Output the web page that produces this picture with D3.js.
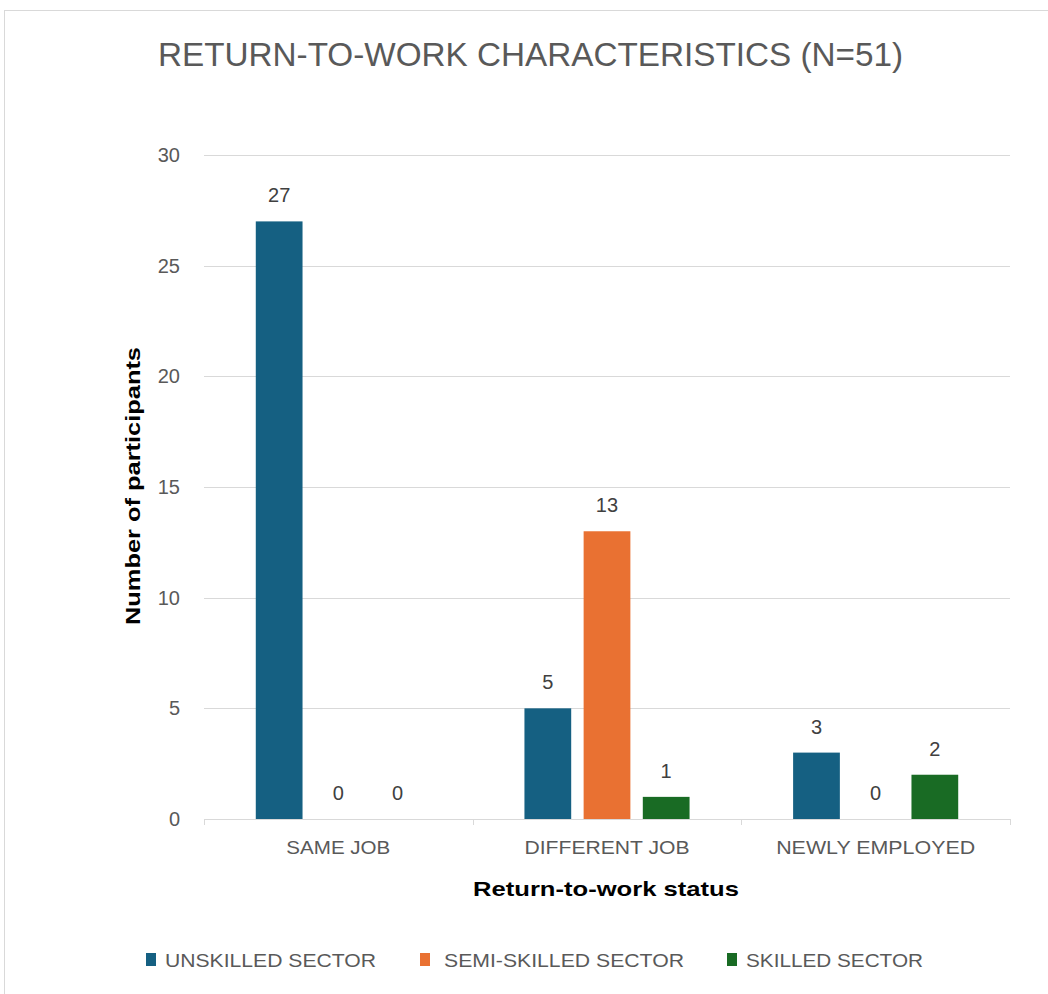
<!DOCTYPE html>
<html>
<head>
<meta charset="utf-8">
<script src="https://cdn.jsdelivr.net/npm/d3@7"></script>
<style>
  html, body { margin: 0; padding: 0; background: #fff; }
  svg { display: block; font-family: 'Liberation Sans', Arial, sans-serif; }
</style>
</head>
<body>
<div id="chart"></div>
<script>
const categories = ['SAME JOB', 'DIFFERENT JOB', 'NEWLY EMPLOYED']
const seriesNames = ['UNSKILLED SECTOR', 'SEMI-SKILLED SECTOR', 'SKILLED SECTOR']
const unskilled = [27, 5, 3]
const semiSkilled = [0, 13, 0]
const skilled = [0, 1, 2]
const yTicks = [0, 5, 10, 15, 20, 25, 30]
const colors = ['#156082', '#e97132', '#196b24']

const width = 1048
const height = 994
const padding = { top: 155, right: 38, bottom: 175, left: 204 }

// widths of the labels in the picture (condensed office font)
const categoryWidths = [104, 165, 199]
const legendWidths = [211, 240, 177]

const seriesValues = [unskilled, semiSkilled, skilled]
const table = categories.map((c, i) => ({
  category: c,
  values: seriesNames.map((s, j) => ({ key: s, idx: j, value: seriesValues[j][i] })),
}))

const svg = d3.select('#chart').append('svg').attr('width', width).attr('height', height)

// chart frame
svg.append('rect')
  .attr('x', 4.5).attr('y', 10.5)
  .attr('width', width + 10).attr('height', height + 10)
  .attr('fill', '#fff').attr('stroke', '#d9d9d9').attr('stroke-width', 1)

const x0 = d3.scaleBand()
  .domain(categories)
  .range([padding.left, width - padding.right])
  .paddingInner(0).paddingOuter(0)

const x1 = d3.scaleBand()
  .domain(seriesNames)
  .range([0, x0.bandwidth()])
  .paddingInner(0.21)
  .paddingOuter(0.875)

const y = d3.scaleLinear()
  .domain([0, 30])
  .range([height - padding.bottom, padding.top])

// gridlines
svg.append('g')
  .selectAll('line')
  .data(yTicks.filter((d) => d > 0))
  .enter()
  .append('line')
  .attr('x1', padding.left)
  .attr('x2', width - padding.right)
  .attr('y1', (d) => Math.round(y(d)) + 0.5)
  .attr('y2', (d) => Math.round(y(d)) + 0.5)
  .attr('stroke', '#d9d9d9')
  .attr('stroke-width', 1)

// y axis labels
const yAxis = d3.axisLeft(y).tickValues(yTicks).tickSize(0).tickPadding(24)
svg.append('g')
  .attr('transform', `translate(${padding.left},0)`)
  .call(yAxis)
  .call((g) => g.select('.domain').remove())
  .call((g) => g.selectAll('text')
    .attr('fill', '#595959')
    .attr('font-size', 20)
    .attr('font-family', "'Liberation Sans', Arial, sans-serif"))

// bars
const groups = svg.append('g')
  .selectAll('g')
  .data(table)
  .enter()
  .append('g')
  .attr('transform', (d) => `translate(${x0(d.category)},0)`)

groups.selectAll('rect')
  .data((d) => d.values)
  .enter()
  .append('rect')
  .attr('x', (d) => x1(d.key))
  .attr('width', x1.bandwidth())
  .attr('y', (d) => y(d.value))
  .attr('height', (d) => y(0) - y(d.value))
  .attr('fill', (d) => colors[d.idx])

groups.selectAll('text')
  .data((d) => d.values)
  .enter()
  .append('text')
  .attr('x', (d) => x1(d.key) + x1.bandwidth() / 2)
  .attr('y', (d) => y(d.value) - 19)
  .attr('text-anchor', 'middle')
  .attr('font-size', 20)
  .attr('fill', '#404040')
  .text((d) => d.value)

// x axis
const xAxis = d3.axisBottom(x0).tickSize(0).tickPadding(22)
const xg = svg.append('g')
  .attr('transform', `translate(0,${y(0)})`)
  .call(xAxis)
xg.select('.domain').remove()
xg.selectAll('text')
  .attr('fill', '#595959')
  .attr('font-size', 19)
  .attr('font-family', "'Liberation Sans', Arial, sans-serif")
  .attr('textLength', (d, i) => categoryWidths[i])
  .attr('lengthAdjust', 'spacingAndGlyphs')

xg.append('line')
  .attr('x1', padding.left).attr('x2', width - padding.right)
  .attr('y1', 0.5).attr('y2', 0.5)
  .attr('stroke', '#d9d9d9')
xg.selectAll('.sep')
  .data(categories.map((c) => x0(c)).concat([x0.range()[1]]))
  .enter()
  .append('line')
  .attr('class', 'sep')
  .attr('x1', (d) => Math.round(d) + 0.5).attr('x2', (d) => Math.round(d) + 0.5)
  .attr('y1', 0).attr('y2', 6)
  .attr('stroke', '#d9d9d9')

// titles
svg.append('text')
  .attr('x', 158).attr('y', 66)
  .attr('font-size', 34)
  .attr('fill', '#595959')
  .attr('textLength', 745)
  .attr('lengthAdjust', 'spacingAndGlyphs')
  .text('RETURN-TO-WORK CHARACTERISTICS (N=51)')

svg.append('text')
  .attr('transform', 'translate(140,486) rotate(-90)')
  .attr('text-anchor', 'middle')
  .attr('font-size', 21)
  .attr('font-weight', 'bold')
  .attr('fill', '#000')
  .attr('textLength', 278)
  .attr('lengthAdjust', 'spacingAndGlyphs')
  .text('Number of participants')

svg.append('text')
  .attr('x', 606)
  .attr('y', 896)
  .attr('text-anchor', 'middle')
  .attr('font-size', 21)
  .attr('font-weight', 'bold')
  .attr('fill', '#000')
  .attr('textLength', 266)
  .attr('lengthAdjust', 'spacingAndGlyphs')
  .text('Return-to-work status')

// legend
const legendX = [146, 420, 727]
const legend = svg.append('g')
  .selectAll('g')
  .data(seriesNames)
  .enter()
  .append('g')
  .attr('transform', (d, i) => `translate(${legendX[i]},953)`)
legend.append('rect')
  .attr('width', 10).attr('height', 13)
  .attr('fill', (d, i) => colors[i])
legend.append('text')
  .attr('x', (d, i) => (i === 1 ? 24 : 19))
  .attr('y', 14)
  .attr('font-size', 19)
  .attr('fill', '#595959')
  .attr('textLength', (d, i) => legendWidths[i])
  .attr('lengthAdjust', 'spacingAndGlyphs')
  .text((d) => d)
</script>
</body>
</html>
